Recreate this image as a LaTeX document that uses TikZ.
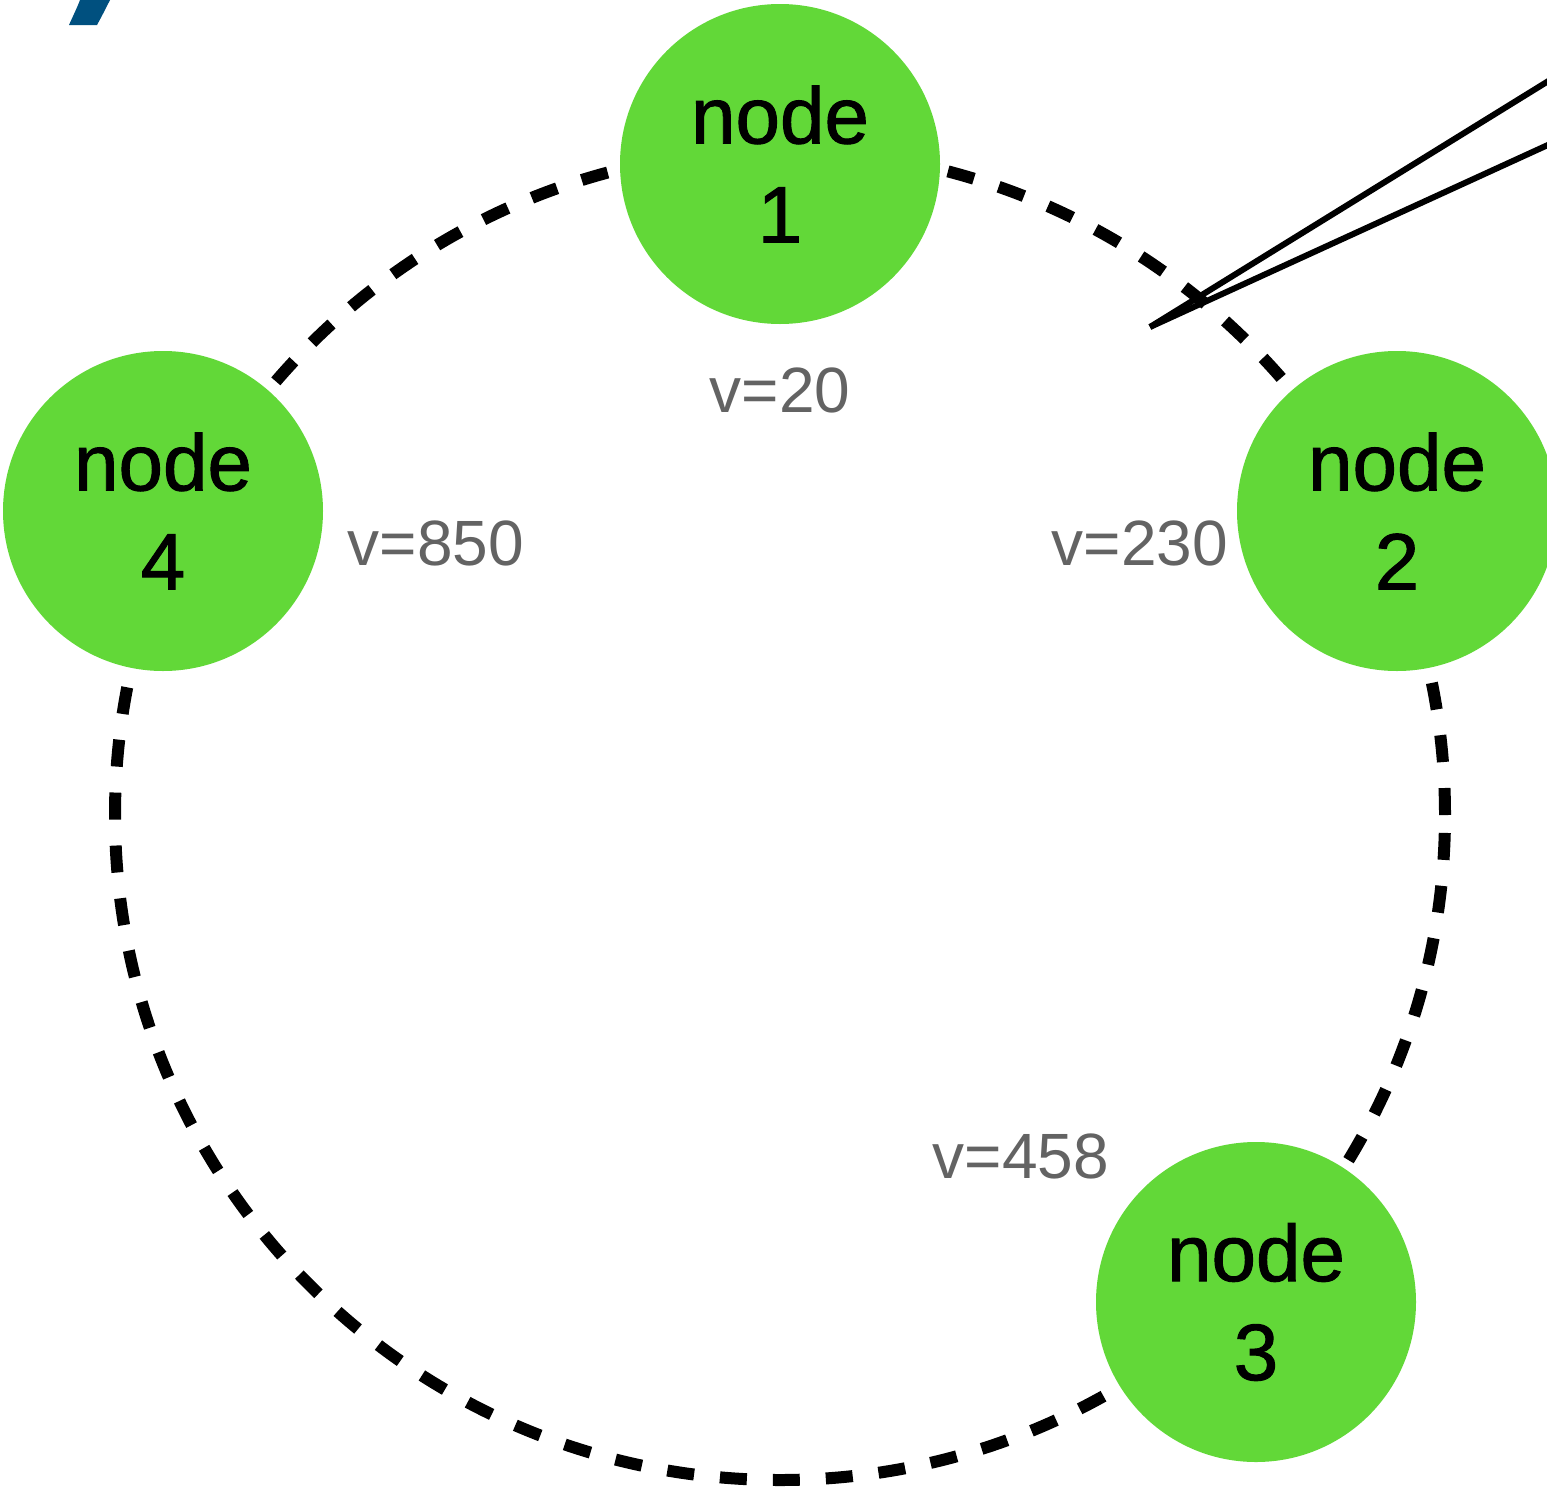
\documentclass[tikz,border=0pt]{standalone}
\usepackage{fontspec}
\setmainfont{Liberation Sans}
\newfontfamily\nodefont{Liberation Sans}[FakeBold=1.2]
\definecolor{nodegreen}{HTML}{62D838}
\definecolor{labelgray}{HTML}{636363}
\definecolor{markblue}{HTML}{00507F}
\begin{document}
\begin{tikzpicture}[x=1pt,y=-1pt,
  ringnode/.style={circle,fill=nodegreen,draw=none,minimum size=320pt,inner sep=0pt,
    align=center,font=\nodefont\fontsize{80}{99}\selectfont,text=black},
  vlabel/.style={anchor=base,text=labelgray,font=\fontsize{64}{70}\selectfont,inner sep=0pt},
  ringline/.style={line width=12pt,dash pattern=on 27pt off 26pt,draw=black},
  feedline/.style={line width=6pt,draw=black}]
\useasboundingbox (0,0) rectangle (1547,1499);
\clip (0,0) rectangle (1547,1499);
\fill[white] (0,0) rectangle (1547,1499);
% blue mark at top-left
\fill[markblue] (69,25) -- (97,25) .. controls (103,14) and (107,6) .. (110,0) -- (80,0) .. controls (77,8) and (73,16) .. (69,25) -- cycle;
% dashed ring
\draw[ringline] (780,815) circle[radius=665pt];
% nodes
\node[ringnode] (n1) at (780,164) {node\\1};
\node[ringnode] (n2) at (1397,511) {node\\2};
\node[ringnode] (n3) at (1256,1302) {node\\3};
\node[ringnode] (n4) at (163,511) {node\\4};
% labels
\node[vlabel] (l1) at (780,412) {v=20};
\node[vlabel] (l2) at (1140,565) {v=230};
\node[vlabel] (l3) at (1021,1178) {v=458};
\node[vlabel] (l4) at (436,565) {v=850};
% two lines from the right edge
\coordinate (tip) at (1150,327);
\coordinate (e1) at (1550,80);
\coordinate (e2) at (1550,144);
\draw[feedline] (e1) -- (tip);
\draw[feedline] (e2) -- (tip);
\end{tikzpicture}
\end{document}
